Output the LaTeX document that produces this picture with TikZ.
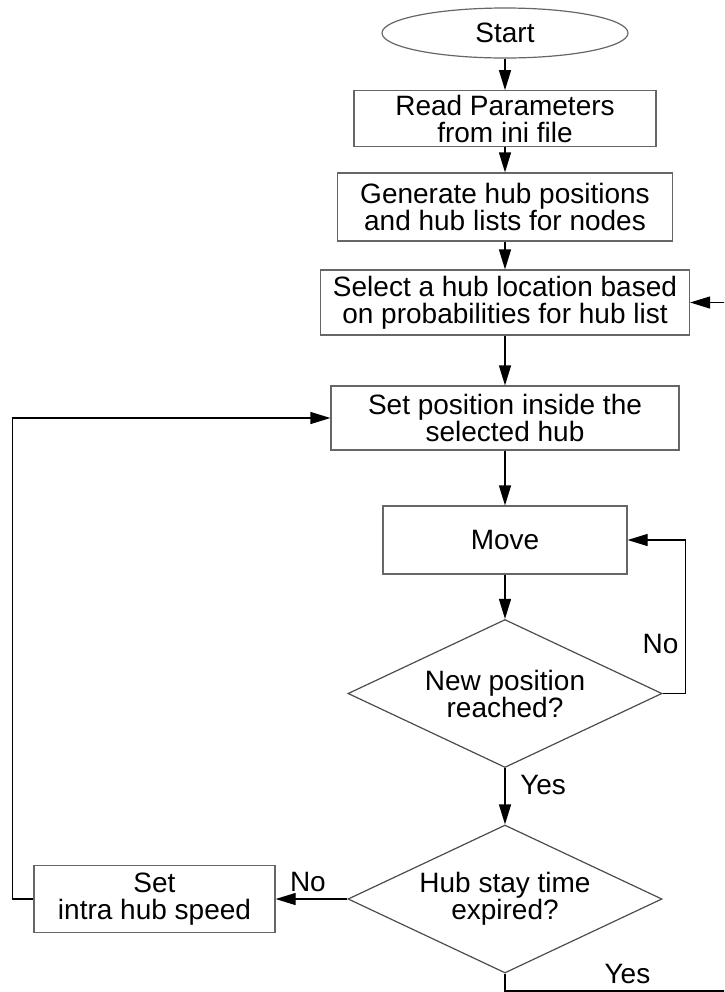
\documentclass[tikz,border=0pt]{standalone}
\usepackage{fontspec}
\setmainfont{Liberation Sans}
\usetikzlibrary{shapes.geometric, positioning, arrows.meta}

\tikzset{
    block/.style={rectangle, draw=black!60, line width=0.6pt, align=center, inner sep=2pt},
    decision/.style={diamond, draw=black!70, line width=0.6pt, align=center, aspect=2, inner sep=0pt, minimum width=157pt, minimum height=74pt},
    terminal/.style={ellipse, draw=black!60, line width=0.6pt, inner sep=0pt, minimum width=123pt, minimum height=25pt},
    flow/.style={-{Triangle[length=10pt,width=6pt]}, draw=black, line width=0.6pt}
}

\begin{document}
\begin{tikzpicture}[x=0.5pt, y=-0.5pt, on grid, font=\fontsize{14}{13.5}\selectfont]
    \clip (0,0) rectangle (724,992);
    \node[terminal] (start) at (505,33) {Start};
    \node[block, minimum width=151pt, minimum height=25.5pt] (read) [below=42.75pt of start] {Read Parameters\\ from ini file};
    \node[block, minimum width=167.5pt, minimum height=34pt] (gen) [below=44.25pt of read] {Generate hub positions\\ and hub lists for nodes};
    \node[block, minimum width=184.5pt, minimum height=32.5pt] (select) [below=47.75pt of gen] {Select a hub location based\\ on probabilities for hub list};
    \node[block, minimum width=174pt, minimum height=32pt] (setpos) [below=57.75pt of select] {Set position inside the\\ selected hub};
    \node[block, minimum width=122pt, minimum height=34pt] (move) [below=61pt of setpos] {Move};
    \node[decision] (newpos) [below=76.75pt of move] {New position\\ reached?};
    \node[decision] (hubstay) [below=102.75pt of newpos] {Hub stay time\\ expired?};
    \node[block, minimum width=120.5pt, minimum height=33.5pt] (intra) [left=175.25pt of hubstay] {Set\\ intra hub speed};
    \coordinate (yescorner) at (760,991);

    \path[flow]
        (start) edge (read)
        (read) edge (gen)
        (gen) edge (select)
        (select) edge (setpos)
        (setpos) edge (move)
        (move) edge (newpos)
        (newpos) edge node [pos=0.3, right, xshift=4pt] {Yes} (hubstay)
        (hubstay) edge node [pos=0.55, above] {No} (intra);
    \draw[flow] (newpos.east) -- ++(11.5pt,0) |- node [pos=0.16, left] {No} (move.east);
    \draw[flow] (intra.west) -- ++(-10.5pt,0) |- (setpos.west);
    \draw[flow] (hubstay.south) |- node [pos=0.74, above] {Yes} (yescorner) |- (select.east);
\end{tikzpicture}
\end{document}
